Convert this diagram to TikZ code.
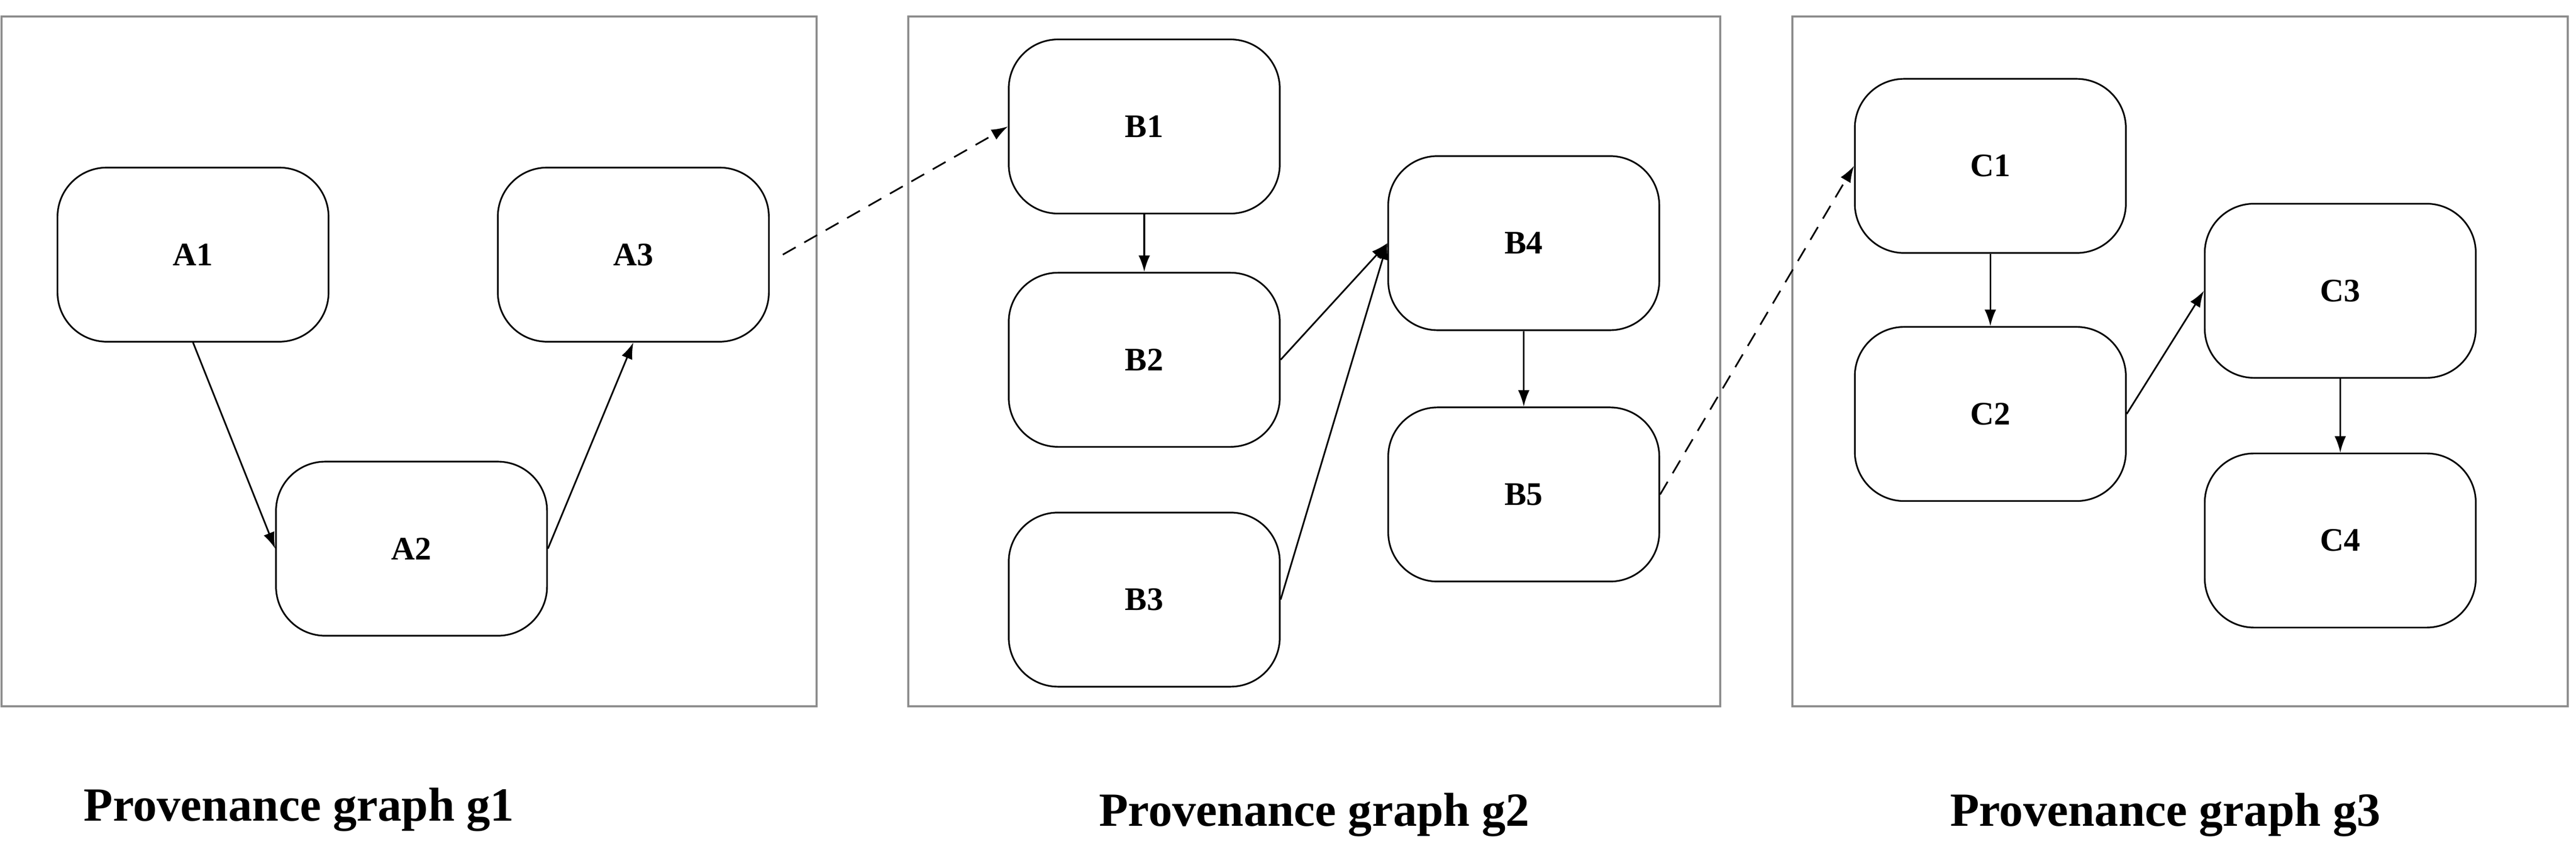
\documentclass[tikz,border=0pt]{standalone}
\usepackage{fontspec}
\setmainfont{Liberation Serif}
\usetikzlibrary{arrows.meta}
\begin{document}
\begin{tikzpicture}[x=1pt,y=-1pt,
  frame/.style={draw=black!45,line width=1.3pt},
  nd/.style={draw,line width=1pt,rounded corners=30pt,minimum width=165pt,minimum height=106pt,font=\bfseries\fontsize{20}{24}\selectfont,inner sep=0pt},
  ed/.style={line width=1pt,-{Latex[length=10pt,width=7pt]}},
  dd/.style={ed,dash pattern=on 9pt off 6pt},
  captxt/.style={font=\bfseries\fontsize{29}{34}\selectfont}]
\useasboundingbox (0,0) rectangle (1568,527);
\fill[white] (0,0) rectangle (1568,527);
\draw[frame] (1,10) rectangle (497,430);
\draw[frame] (553,10) rectangle (1047,430);
\draw[frame] (1091,10) rectangle (1563,430);
\node[nd] (A1) at (117.5,155) {A1};
\node[nd] (A3) at (385.5,155) {A3};
\node[nd] (A2) at (250.5,334) {A2};
\node[nd] (B1) at (696.5,77) {B1};
\node[nd] (B2) at (696.5,219) {B2};
\node[nd] (B3) at (696.5,365) {B3};
\node[nd] (B4) at (927.5,148) {B4};
\node[nd] (B5) at (927.5,301) {B5};
\node[nd] (C1) at (1211.5,101) {C1};
\node[nd] (C2) at (1211.5,252) {C2};
\node[nd] (C3) at (1424.5,177) {C3};
\node[nd] (C4) at (1424.5,329) {C4};
\draw[ed] (A1.south) -- (A2.west);
\draw[ed] (A2.east) -- (A3.south);
\draw[dd] ([xshift=8pt]A3.east) -- (B1.west);
\draw[ed] (B1.south) -- (B2.north);
\draw[ed] (B2.east) -- (B4.west);
\draw[ed] (B3.east) -- (B4.west);
\draw[ed] (B4.south) -- (B5.north);
\draw[dd] (B5.east) -- (C1.west);
\draw[ed] (C1.south) -- (C2.north);
\draw[ed] (C2.east) -- (C3.west);
\draw[ed] (C3.south) -- (C4.north);
\node[captxt] (g1) at (182,493) {Provenance graph g1};
\node[captxt] (g2) at (800,496) {Provenance graph g2};
\node[captxt] (g3) at (1318,496) {Provenance graph g3};
\end{tikzpicture}
\end{document}
